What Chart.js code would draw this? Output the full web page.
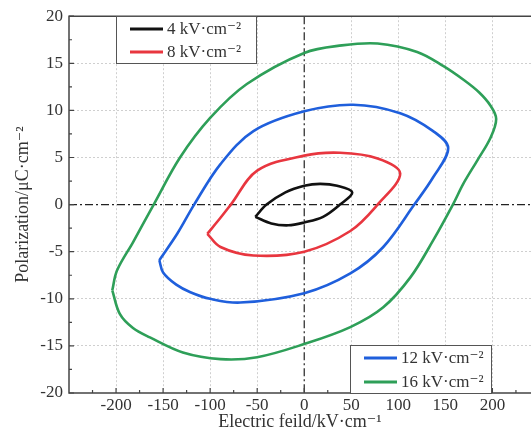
<!DOCTYPE html>
<html>
<head>
<meta charset="utf-8">
<title>P-E loops</title>
<script src="https://cdn.jsdelivr.net/npm/chart.js@4.4.0/dist/chart.umd.min.js"></script>
<style>
  html, body { margin: 0; padding: 0; background: #fff; overflow: hidden; }
  #wrap { position: relative; width: 531px; height: 435px; }
</style>
</head>
<body>
<div id="wrap"><canvas id="chart-pe"></canvas></div>
<script>
// series labels
var labels = ["4 kV\u00b7cm\u207b\u00b2", "8 kV\u00b7cm\u207b\u00b2", "12 kV\u00b7cm\u207b\u00b2", "16 kV\u00b7cm\u207b\u00b2"];

// electric field (kV/cm) and polarization (uC/cm2)
var e4 = [-52, -40, -20, 0, 17, 35, 51, 38, 20, 0, -17, -35, -52];
var p4 = [-1.3, 0, 1.3, 2.0, 2.2, 2.0, 1.3, 0, -1.3, -1.9, -2.2, -2.0, -1.3];

var e8 = [-103, -89, -78, -50, 0, 38, 78, 102, 78, 49, 0, -54, -89, -103];
var p8 = [-3.1, -1.4, 0, 3.6, 5.2, 5.5, 4.9, 3.3, 0, -2.8, -5.0, -5.4, -4.5, -3.1];

var e12 = [-154, -135, -117, -89, -54, 0, 52, 102, 137, 153, 137, 117, 84, 49, 0, -68, -100, -121, -136, -150, -154];
var p12 = [-5.9, -3.1, 0, 4.3, 7.8, 9.9, 10.6, 9.7, 7.8, 6.0, 2.9, 0, -4.5, -7.3, -9.4, -10.4, -10.0, -9.3, -8.5, -7.2, -5.9];

var e16 = [-204, -199, -182, -160, -132, -100, -61, 0, 40, 78, 120, 148, 170, 186, 198, 204,
           198, 184, 169, 158, 137, 113, 84, 49, 0, -50, -89, -129, -164, -182, -196, -204];
var p16 = [-9.1, -7.0, -4.0, 0, 5.0, 9.2, 12.8, 16.1, 16.9, 17.1, 16.2, 14.7, 13.2, 11.9, 10.5, 9.1,
           7.1, 4.7, 2.2, 0, -3.8, -7.7, -10.9, -13.0, -14.8, -16.2, -16.4, -15.7, -14.1, -13.1, -11.6, -9.1];

// axis ticks
var xTicks = [-200, -150, -100, -50, 0, 50, 100, 150, 200];
var yTicks = [-20, -15, -10, -5, 0, 5, 10, 15, 20];
var xMinor = [-225, -175, -125, -75, -25, 25, 75, 125, 175, 225];
var yMinor = [-17.5, -12.5, -7.5, -2.5, 2.5, 7.5, 12.5, 17.5];

var colors = ["#111111", "#e8363f", "#1f5fdc", "#2e9f58"];
var serif = "'Liberation Serif', 'DejaVu Serif', serif";

function pts(xs, ys) {
    return xs.map(function (x, i) { return { x: x, y: ys[i] }; });
}

var series = [pts(e4, p4), pts(e8, p8), pts(e12, p12), pts(e16, p16)];

var decor = {
    id: 'decor',
    beforeDatasetsDraw: function (chart) {
        var ctx = chart.ctx, a = chart.chartArea;
        var xs = chart.scales.x, ys = chart.scales.y;
        var x0 = xs.getPixelForValue(0), y0 = ys.getPixelForValue(0);
        ctx.save();
        ctx.strokeStyle = "#222";
        ctx.lineWidth = 1.2;
        ctx.setLineDash([8, 3, 2, 3]);
        ctx.beginPath();
        ctx.moveTo(x0, a.top); ctx.lineTo(x0, a.bottom);
        ctx.moveTo(a.left, y0); ctx.lineTo(a.right, y0);
        ctx.stroke();
        ctx.restore();
    },
    afterDraw: function (chart) {
        var ctx = chart.ctx, a = chart.chartArea;
        var xs = chart.scales.x, ys = chart.scales.y;
        ctx.save();
        // frame: top, left, bottom (right side is cut off)
        ctx.strokeStyle = "#444";
        ctx.lineWidth = 1.5;
        ctx.beginPath();
        ctx.moveTo(a.right, a.top); ctx.lineTo(a.left, a.top);
        ctx.lineTo(a.left, a.bottom); ctx.lineTo(a.right, a.bottom);
        ctx.stroke();
        // inward ticks
        ctx.lineWidth = 1.2;
        ctx.beginPath();
        xTicks.forEach(function (v) {
            var px = xs.getPixelForValue(v);
            ctx.moveTo(px, a.bottom); ctx.lineTo(px, a.bottom - 5);
        });
        xMinor.forEach(function (v) {
            var px = xs.getPixelForValue(v);
            if (px > a.right) return;
            ctx.moveTo(px, a.bottom); ctx.lineTo(px, a.bottom - 3);
        });
        yTicks.forEach(function (v) {
            var py = ys.getPixelForValue(v);
            ctx.moveTo(a.left, py); ctx.lineTo(a.left + 5, py);
        });
        yMinor.forEach(function (v) {
            var py = ys.getPixelForValue(v);
            ctx.moveTo(a.left, py); ctx.lineTo(a.left + 3, py);
        });
        ctx.stroke();

        // legends, two boxes
        var boxes = chart.options.plugins.decor.boxes;
        boxes.forEach(function (b) {
            ctx.fillStyle = "#fff";
            ctx.fillRect(b.x, b.y, b.w, b.h);
            ctx.strokeStyle = "#555";
            ctx.lineWidth = 1;
            ctx.strokeRect(b.x + 0.5, b.y + 0.5, b.w, b.h);
            b.items.forEach(function (idx, k) {
                var yy = b.y + b.rowTop + k * b.rowGap;
                ctx.strokeStyle = colors[idx];
                ctx.lineWidth = 3;
                ctx.beginPath();
                ctx.moveTo(b.x + 14, yy); ctx.lineTo(b.x + 47, yy);
                ctx.stroke();
                ctx.fillStyle = "#333";
                ctx.font = "17px " + serif;
                ctx.textBaseline = "middle";
                ctx.textAlign = "left";
                ctx.fillText(labels[idx], b.x + 51, yy + 1);
            });
        });
        ctx.restore();
    }
};

var ctx = document.getElementById("chart-pe");
var chartPE = new Chart(ctx, {
    type: 'scatter',
    data: {
        datasets: series.map(function (s, i) {
            return {
                label: labels[i],
                data: s,
                showLine: true,
                borderColor: colors[i],
                backgroundColor: colors[i],
                borderWidth: 2.6,
                pointRadius: 0,
                tension: 0.35,
                fill: false
            };
        })
    },
    options: {
        responsive: true,
        maintainAspectRatio: false,
        animation: false,
        layout: { padding: { top: 16, left: 0, right: 0, bottom: 0 } },
        plugins: {
            legend: { display: false },
            tooltip: { enabled: false },
            decor: {
                boxes: [
                    { x: 116, y: 16, w: 140, h: 47, rowTop: 13, rowGap: 23, items: [0, 1] },
                    { x: 350, y: 345, w: 141, h: 48, rowTop: 13, rowGap: 24, items: [2, 3] }
                ]
            }
        },
        scales: {
            x: {
                type: 'linear',
                min: -250,
                max: 241,
                afterBuildTicks: function (scale) {
                    scale.ticks = xTicks.map(function (v) { return { value: v }; });
                },
                afterFit: function (scale) { scale.height = 42; },
                grid: {
                    drawTicks: false,
                    color: function (c) { return c.tick && c.tick.value === 0 ? 'rgba(0,0,0,0)' : '#cfcfcf'; },
                    lineWidth: 1
                },
                border: { display: false, dash: [2, 2] },
                ticks: {
                    padding: 2,
                    color: "#333",
                    font: { family: serif, size: 17 },
                    maxRotation: 0,
                    callback: function (v) { return v; }
                },
                title: {
                    display: true,
                    text: "Electric feild/kV\u00b7cm\u207b\u00b9",
                    color: "#333",
                    font: { family: serif, size: 18 },
                    padding: { top: 0, bottom: 2 }
                }
            },
            y: {
                type: 'linear',
                min: -20,
                max: 20,
                afterBuildTicks: function (scale) {
                    scale.ticks = yTicks.map(function (v) { return { value: v }; });
                },
                afterFit: function (scale) { scale.width = 69; },
                grid: {
                    drawTicks: false,
                    color: function (c) {
                        var v = c.tick ? c.tick.value : null;
                        return (v === 0 || v === 20 || v === -20) ? 'rgba(0,0,0,0)' : '#cfcfcf';
                    },
                    lineWidth: 1
                },
                border: { display: false, dash: [2, 2] },
                ticks: {
                    padding: 6,
                    color: "#333",
                    font: { family: serif, size: 17 },
                    callback: function (v) { return v; }
                },
                title: {
                    display: true,
                    text: "Polarization/\u03bcC\u00b7cm\u207b\u00b2",
                    color: "#333",
                    font: { family: serif, size: 18 },
                    padding: { top: 12, bottom: 0 }
                }
            }
        }
    },
    plugins: [decor]
});
</script>
</body>
</html>
